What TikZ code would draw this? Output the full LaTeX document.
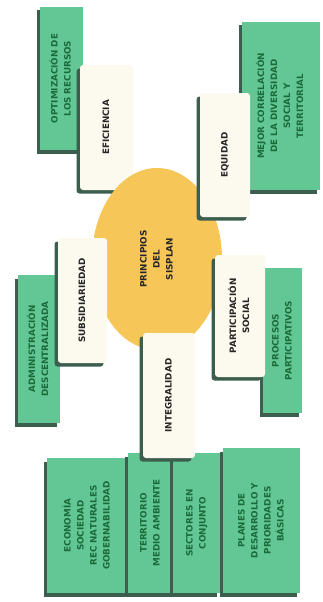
\documentclass[tikz,border=0pt]{standalone}
\usepackage{fontspec}
\setmainfont{DejaVu Sans}
\usetikzlibrary{shadows,shapes.geometric}
\definecolor{gfill}{HTML}{62C795}
\definecolor{gtext}{HTML}{1B6B3A}
\definecolor{cfill}{HTML}{FCF9EE}
\definecolor{shad}{HTML}{3C5E4E}
\definecolor{yfill}{HTML}{F7C659}
\newcommand{\rt}[1]{\rotatebox{90}{\begin{tabular}{@{}c@{}}#1\end{tabular}}}
\tikzset{
  txt/.style={font=\fontsize{8.8}{13}\selectfont\bfseries},
  base/.style={inner sep=0pt, txt,
    drop shadow={shadow xshift=-3.5pt, shadow yshift=-3.5pt, fill=shad, opacity=1}},
  gbox/.style={base, rectangle, fill=gfill, text=gtext},
  cbox/.style={base, rectangle, rounded corners=3pt, fill=cfill, text=black!85},
}
\begin{document}
\begin{tikzpicture}[x=1pt,y=-1pt]
\useasboundingbox (0,0) rectangle (323,602);
% top-left
\node[gbox, minimum width=43pt, minimum height=143pt] (opt) at (61.5,78.5) {\rt{OPTIMIZACIÓN DE\\LOS RECURSOS}};
\node[cbox, minimum width=53pt, minimum height=125pt] (efi) at (106.5,127.5) {\rt{EFICIENCIA}};
% top-right
\node[gbox, minimum width=78pt, minimum height=168pt] (mej) at (281,106) {\rt{MEJOR CORRELACIÓN\\DE LA DIVERSIDAD\\SOCIAL Y\\TERRITORIAL}};
% centre
\node[ellipse, fill=yfill, minimum width=130pt, minimum height=182pt, inner sep=0pt,
  txt, text=black!85] (cen) at (157,259) {\rt{PRINCIPIOS\\DEL\\SISPLAN}};
\node[cbox, minimum width=50pt, minimum height=124pt] (equ) at (225,155) {\rt{EQUIDAD}};
% left
\node[gbox, minimum width=42pt, minimum height=148pt] (adm) at (39,349) {\rt{ADMINISTRACIÓN\\DESCENTRALIZADA}};
\node[cbox, minimum width=49pt, minimum height=125pt] (sub) at (82.5,300.5) {\rt{SUBSIDIARIEDAD}};
% right
\node[gbox, minimum width=39pt, minimum height=145pt] (pro) at (282.5,340.5) {\rt{PROCESOS\\PARTICIPATIVOS}};
\node[cbox, minimum width=50pt, minimum height=122pt] (par) at (240,316) {\rt{PARTICIPACIÓN\\SOCIAL}};
% bottom row
\node[gbox, minimum width=81pt, minimum height=135pt] (eco) at (87.5,525.5) {\rt{ECONOMÍA\\SOCIEDAD\\REC NATURALES\\GOBERNABILIDAD}};
\node[gbox, minimum width=45pt, minimum height=140pt] (ter) at (150.5,523) {\rt{TERRITORIO\\MEDIO AMBIENTE}};
\node[gbox, minimum width=47pt, minimum height=140pt] (sec) at (196.5,523) {\rt{SECTORES EN\\CONJUNTO}};
\node[gbox, minimum width=77pt, minimum height=145pt] (pla) at (261.5,520.5) {\rt{PLANES DE\\DESARROLLO Y\\PRIORIDADES\\BÁSICAS}};
\node[cbox, minimum width=52pt, minimum height=125pt] (int) at (169,395.5) {\rt{INTEGRALIDAD}};
\end{tikzpicture}
\end{document}
